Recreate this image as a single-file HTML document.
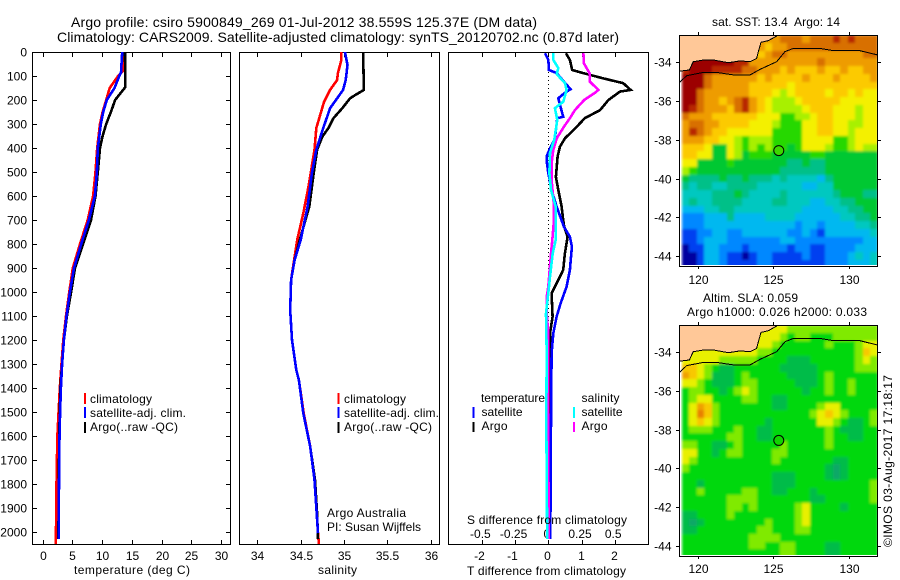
<!DOCTYPE html>
<html>
<head>
<meta charset="utf-8">
<title>Argo profile</title>
<style>
html,body{margin:0;padding:0;background:#fff;}
svg{display:block;}
text{font-family:"Liberation Sans",sans-serif;font-size:12px;fill:#000;}
.t14{font-size:14px;}
</style>
</head>
<body>
<svg id="chart" xmlns="http://www.w3.org/2000/svg" width="900" height="580" viewBox="0 0 900 580">
<defs>
<clipPath id="clip-sst"><rect x="681" y="35" width="196.5" height="230"/></clipPath>
<clipPath id="clip-sla"><rect x="681" y="325" width="196.5" height="230"/></clipPath>
<clipPath id="clip-p1"><rect x="32" y="52" width="199" height="493"/></clipPath>
<clipPath id="clip-p2"><rect x="239" y="52" width="201" height="493"/></clipPath>
<clipPath id="clip-p3"><rect x="448" y="52" width="201" height="493"/></clipPath>
<filter id="soften" x="-5%" y="-5%" width="110%" height="110%"><feGaussianBlur stdDeviation="1.4"/></filter>
</defs>
<text class="t14" x="71" y="27" textLength="466">Argo profile: csiro 5900849_269 01-Jul-2012 38.559S 125.37E (DM data)</text>
<text class="t14" x="57" y="42" textLength="562">Climatology: CARS2009. Satellite-adjusted climatology: synTS_20120702.nc (0.87d later)</text>
<g id="plots"></g>
<g id="maps"></g>

<text x="74" y="574" textLength="116">temperature (deg C)</text>
<text x="318" y="574" textLength="39">salinity</text>
<text x="467" y="575" textLength="159">T difference from climatology</text>
<text x="467" y="524" textLength="160">S difference from climatology</text>

<g>
<rect x="84" y="393" width="2" height="11" fill="#ff0000"/>
<rect x="84" y="407" width="2" height="11" fill="#0000ff"/>
<rect x="84" y="422" width="2" height="11" fill="#000"/>
<text x="90" y="403" textLength="62">climatology</text>
<text x="90" y="417" textLength="96">satellite-adj. clim.</text>
<text x="90" y="431" textLength="88">Argo(..raw -QC)</text>
</g>
<g>
<rect x="337.500" y="393" width="2" height="11" fill="#ff0000"/>
<rect x="337.500" y="407" width="2" height="11" fill="#0000ff"/>
<rect x="337.500" y="422" width="2" height="11" fill="#000"/>
<text x="344" y="403" textLength="62">climatology</text>
<text x="344" y="417" textLength="95">satellite-adj. clim.</text>
<text x="344" y="431" textLength="88">Argo(..raw -QC)</text>
</g>
<text x="327" y="517" textLength="79">Argo Australia</text>
<text x="327" y="531" textLength="94">PI: Susan Wijffels</text>

<g>
<text x="481" y="402" textLength="64">temperature</text>
<text x="481.500" y="416" textLength="41">satellite</text>
<text x="481.500" y="430" textLength="26">Argo</text>
<text x="581.500" y="402" textLength="38">salinity</text>
<text x="581.500" y="416" textLength="41">satellite</text>
<text x="581.500" y="430" textLength="26">Argo</text>
<rect x="472.500" y="407" width="2" height="11" fill="#0000ff"/>
<rect x="472.500" y="422" width="2" height="10" fill="#000"/>
<rect x="573" y="407" width="2" height="11" fill="#00ffff"/>
<rect x="573" y="422" width="2" height="10" fill="#ff00ff"/>
</g>

<text x="712" y="26" textLength="128">sat. SST: 13.4&#160; Argo: 14</text>
<text x="703" y="302" textLength="95">Altim. SLA: 0.059</text>
<text x="687" y="316" textLength="180">Argo h1000: 0.026 h2000: 0.033</text>
<text transform="translate(892,547) rotate(-90)" x="0" y="0" textLength="172">©IMOS 03-Aug-2017 17:18:17</text>
</svg>
<script>
// Temperature profiles
const tempClimDepth = [0,80,100,150,200,250,300,400,500,600,700,800,900,1000,1100,1200,1300,1400,1500,1600,1800,2000,2050];
const tempClim = [13.6,13.5,12.7,11.3,10.7,10.1,9.66,9.2,8.9,8.5,7.6,6.3,5.1,4.5,3.95,3.5,3.2,2.9,2.7,2.5,2.35,2.27,2.25];
const tempSatDepth = [0,85,100,150,200,250,300,400,500,600,700,800,900,1000,1100,1200,1300,1400,1500,1600,1800,2030];
const tempSat = [13.4,13.2,12.9,12.1,10.8,10.2,9.8,9.3,9.15,8.8,7.8,6.5,5.3,4.6,4.03,3.6,3.3,3.1,2.95,2.85,2.77,2.7];
const tempArgoDepth = [0,147,200,250,300,350,400,500,600,700,800,900,1000,1100,1200,1300,1400,1500,1600,1800,2030];
const tempArgo = [13.87,13.9,12.2,11.5,10.7,10.1,9.66,9.3,8.9,8.15,6.8,5.46,4.8,4.1,3.6,3.3,3.0,2.9,2.8,2.75,2.68];
// Salinity profiles
const salClimDepth = [0,33,88,117,158,207,317,408,561,672,783,867,950,1075,1200,1325,1367,1505,1644,1783,1922,2005,2050];
const salClim = [34.97,34.97,34.93,34.92,34.84,34.77,34.68,34.66,34.59,34.53,34.46,34.425,34.39,34.38,34.4,34.45,34.48,34.535,34.61,34.66,34.685,34.7,34.71];
const salSatDepth = [0,54,117,158,234,317,408,505,644,783,867,950,1075,1200,1325,1367,1505,1644,1783,1922,2005];
const salSat = [35.01,35.04,35.02,34.99,34.84,34.76,34.68,34.63,34.58,34.5,34.43,34.39,34.38,34.4,34.45,34.48,34.53,34.61,34.66,34.685,34.7];
const salArgoDepth = [0,158,179,193,234,275,317,353,408,505,644,783,867,950,1075,1200,1325,1367,1505,1644,1783,1922,2030];
const salArgo = [35.22,35.23,35.13,35.07,34.98,34.88,34.82,34.75,34.69,34.65,34.6,34.49,34.43,34.39,34.38,34.4,34.45,34.48,34.53,34.61,34.665,34.69,34.7];
// Differences from climatology
const diffTArgoDepth = [5,33,75,88,110,130,158,165,200,242,276,311,360,395,436,520,575,644,700,728,770,839,908,950,1005,1047,1103,1172,1255,1533,2030];
const diffTArgo = [0.53,0.65,0.72,1.05,1.66,2.26,2.48,2.16,1.81,1.56,1.1,0.86,0.5,0.35,0.28,0.23,0.3,0.4,0.45,0.48,0.58,0.5,0.45,0.3,0.1,0.11,0.13,0.05,0.05,0.06,0.05];
const diffTSatDepth = [5,33,75,88,120,155,170,193,270,276,360,408,436,464,505,575,644,728,770,811,908,978,1047,1103,1172,1255,1533,2030];
const diffTSat = [-0.1,0,0.02,0.25,0.45,0.67,0.5,0.3,0.45,0.27,0.2,0.03,-0.05,-0.04,0,0.1,0.25,0.47,0.65,0.71,0.65,0.55,0.37,0.25,0.15,0.1,0.08,0.06];
const diffSArgoDepth = [5,47,88,124,158,170,200,242,276,311,360,408,464,533,644,700,783,839,978,1020,1089,1172,1533,2030];
const diffSArgo = [0.264,0.268,0.31,0.314,0.377,0.352,0.27,0.2,0.163,0.118,0.063,0.038,0.025,0.025,0.043,0.043,0.03,0.02,0,-0.012,-0.012,0,0,0.002];
const diffSSatDepth = [5,33,67,92,130,158,207,234,283,365,420,505,575,644,783,839,936,1005,1089,1255,1533,2030];
const diffSSat = [0.038,0.038,0.075,0.063,0.126,0.138,0.113,0.05,0.068,0.045,0.013,0.008,0.02,0.056,0.056,0.033,0.013,0,-0.017,-0.012,-0.015,-0.008];
// Tick labels
const depthTicks = [0,100,200,300,400,500,600,700,800,900,1000,1100,1200,1300,1400,1500,1600,1700,1800,1900,2000];
const tempTicks = [0,5,10,15,20,25,30];
const salTicks = [34,34.5,35,35.5,36];
const diffTTicks = [-2,-1,0,1,2];
const diffSTicks = [-0.5,-0.25,0,0.25,0.5];
const lonTicks = [120,125,130];
const latTicks = [34,36,38,40,42,44];
// Coast and 200 m isobath as lon / degrees south
const coastLon = [118.78,125.23,125.23,124.68,124.19,124.02,123.9,123.47,122.8,122.03,121.04,120.38,119.7,119.45,118.78];
const coastLat = [32.59,32.59,32.64,32.88,32.97,33.45,33.8,33.97,33.93,34.02,33.88,33.88,33.97,34.4,34.46];
const isobathLon = [118.79,119.27,120.38,121.26,122.36,123.47,124.13,125.23,125.78,126.34,128.1,129,130.75,131.9];
const isobathLat = [35.05,34.69,34.52,34.52,34.65,34.65,34.36,33.97,33.45,33.28,33.28,33.4,33.4,33.62];
const floatLon = 125.37;
const floatLat = 38.559;
// Gridded map levels, one row per 0.4 deg of latitude, one column per 0.5 deg of longitude
const sstGrid = [
[11,11,11,11,11,11,11,11,11,11,11,11,11,12,12,12,11,12,12,12,13,12,13,12,12,12],
[11,11,11,11,11,11,11,11,11,11,11,10,11,11,12,12,12,12,12,12,12,12,12,12,12,12],
[14,14,14,14,14,14,14,14,13,11,10,11,12,12,11,11,11,11,11,11,11,11,11,11,12,12],
[14,14,14,14,14,14,14,13,13,11,11,11,11,11,11,11,11,11,12,11,11,11,11,11,11,11],
[13,14,14,14,13,13,13,13,12,12,11,11,11,10,11,10,10,10,11,10,10,11,10,10,11,11],
[14,14,14,12,11,11,11,11,11,11,10,11,10,10,10,10,11,10,10,10,11,10,10,10,10,11],
[14,14,14,12,11,11,11,11,11,10,10,10,10,10,9,10,10,10,10,10,10,10,10,10,10,10],
[14,14,12,11,11,11,11,11,11,10,10,10,9,8,9,10,10,10,10,9,10,10,9,10,9,9],
[14,14,12,11,11,10,11,12,13,11,10,9,8,8,8,9,10,10,10,10,10,9,9,9,9,9],
[14,13,12,11,11,11,10,12,13,11,10,9,8,8,8,8,9,10,10,10,9,9,9,8,9,9],
[12,11,11,11,10,10,10,10,10,10,9,9,9,7,7,8,8,9,10,10,9,9,9,8,9,9],
[11,12,12,11,11,10,10,10,10,9,9,9,8,7,7,7,9,9,10,10,9,9,8,8,9,9],
[11,13,12,11,10,10,9,9,9,9,9,9,7,7,7,7,9,9,10,10,9,9,8,9,9,9],
[11,11,11,10,10,9,9,8,7,8,8,8,7,7,7,7,9,9,9,9,7,7,8,9,9,9],
[10,10,10,9,6,6,9,8,7,8,7,8,7,7,6,7,9,9,9,8,7,7,8,9,8,8],
[10,10,9,9,6,6,9,8,6,7,7,7,6,6,6,6,6,7,7,6,6,6,6,6,6,6],
[9,9,6,6,6,6,7,6,6,6,6,6,6,6,5,5,6,5,5,6,6,6,6,6,6,6],
[8,7,6,6,6,6,6,6,6,6,6,6,6,5,5,5,5,5,5,6,6,6,6,6,6,6],
[6,5,5,5,5,6,5,5,6,5,5,5,4,5,4,4,4,4,3,5,6,6,6,6,6,6],
[5,4,5,5,4,4,5,5,5,5,4,4,4,4,4,4,3,3,4,4,6,6,6,6,6,6],
[4,4,4,4,5,5,5,6,5,4,4,4,4,5,4,4,4,4,4,4,5,6,6,6,5,5],
[4,5,4,4,5,5,5,5,4,4,4,4,5,5,4,4,4,3,3,4,4,5,5,6,6,6],
[3,3,3,4,4,5,5,4,4,4,4,4,4,4,4,4,3,3,3,3,4,4,5,5,6,6],
[2,2,2,3,3,3,5,3,3,3,3,4,4,4,4,3,3,3,3,3,3,4,4,5,5,6],
[2,2,2,3,3,3,3,3,3,3,3,3,3,3,3,2,3,3,2,3,3,3,3,4,4,5],
[1,1,2,2,3,3,2,2,3,3,3,3,3,3,2,2,3,2,1,3,3,3,3,3,3,4],
[1,1,2,3,3,3,2,2,2,2,2,2,2,3,3,2,2,2,2,2,2,2,2,2,3,3],
[0,1,1,3,3,2,2,2,1,2,2,2,2,2,1,2,2,1,1,2,2,2,2,3,3,3],
[0,0,1,3,3,2,1,1,0,1,2,2,1,1,1,1,2,1,1,2,2,2,3,4,3,4],
[0,0,1,3,3,2,1,1,1,1,2,2,1,1,1,1,1,1,1,2,2,2,3,3,3,4]
];
const slaGrid = [
[9,9,9,9,9,9,9,9,9,9,9,9,9,9,8,8,8,8,8,8,8,8,8,8,8,8],
[9,9,9,9,9,9,9,9,9,9,9,9,9,8,7,8,8,7,7,7,8,8,8,8,8,8],
[9,9,9,9,9,9,9,9,9,9,9,9,8,7,7,7,7,7,7,8,7,7,7,8,9,9],
[9,9,9,9,9,9,9,9,9,9,8,8,7,7,7,7,7,7,7,7,7,7,7,8,10,9],
[9,9,9,9,9,8,8,8,8,8,7,7,7,7,6,6,6,7,7,7,7,7,7,8,9,8],
[10,10,9,8,7,6,6,7,7,7,7,7,7,6,6,6,6,6,7,7,7,7,7,8,8,8],
[11,10,9,8,6,6,6,7,8,7,7,7,7,7,6,6,6,6,7,8,7,7,7,7,7,7],
[9,9,8,7,6,6,6,7,8,8,7,7,7,7,7,6,6,6,7,8,7,7,8,7,7,7],
[7,8,8,7,7,6,7,8,9,8,7,7,7,7,7,7,6,7,7,8,7,7,8,7,7,7],
[7,8,9,9,7,7,7,7,8,8,7,7,6,6,7,7,7,7,7,7,7,7,7,7,7,7],
[7,9,11,10,8,7,7,7,7,7,7,7,6,6,7,7,7,7,8,9,9,7,7,7,7,7],
[7,9,12,10,8,7,7,7,7,7,7,7,7,7,7,7,7,8,9,10,9,8,7,7,7,8],
[7,9,10,9,8,7,7,7,7,7,7,6,7,7,7,7,7,7,9,9,8,7,6,6,7,8],
[7,8,8,8,7,7,7,8,7,7,6,6,7,7,7,7,7,7,7,8,7,6,6,6,7,7],
[7,7,7,7,7,7,8,8,7,7,6,6,7,7,7,7,7,7,7,8,7,7,6,6,7,7],
[8,8,7,7,6,6,7,8,7,7,7,7,7,8,7,7,7,7,7,8,7,7,7,7,7,7],
[9,9,7,7,6,7,8,8,7,7,7,7,8,8,7,7,7,7,7,7,7,7,7,7,7,7],
[9,8,7,7,7,7,7,7,7,7,7,7,8,7,7,7,7,7,7,7,6,6,7,7,7,7],
[8,7,7,7,7,7,7,7,7,7,7,7,7,7,7,7,7,7,7,6,5,6,7,7,7,7],
[7,7,7,7,7,7,7,7,7,7,7,7,6,6,6,7,7,7,7,6,5,6,7,7,7,7],
[7,7,6,7,7,7,7,7,7,7,7,7,6,6,6,7,7,7,7,7,7,7,7,7,7,8],
[7,7,8,7,7,7,7,7,8,8,7,7,6,6,7,7,7,6,7,7,7,7,7,7,7,8],
[7,7,7,7,7,7,8,8,8,8,7,7,7,7,7,7,7,6,6,7,7,7,7,7,7,8],
[7,7,7,7,7,7,8,8,7,8,7,7,7,7,7,8,9,7,7,7,7,6,7,7,7,7],
[6,6,7,7,7,7,8,7,7,7,7,7,7,7,7,8,9,7,7,7,7,7,7,7,7,7],
[6,5,6,7,7,7,7,7,7,7,7,8,7,7,7,8,9,7,7,7,7,7,7,7,7,7],
[6,6,7,7,7,7,7,7,7,7,8,8,7,7,7,8,8,7,7,7,7,7,7,7,7,7],
[7,7,7,7,7,7,7,7,7,8,8,8,8,7,7,7,7,7,7,7,7,7,7,7,7,7],
[7,7,7,7,7,7,7,7,7,8,8,7,7,8,8,7,7,7,7,6,6,7,7,7,7,7],
[7,7,7,7,7,7,7,7,7,7,7,7,7,8,8,7,7,7,7,6,6,7,7,7,7,7]
];

const NS = 'http://www.w3.org/2000/svg';
const plotsLayer = document.getElementById('plots');
const mapsLayer = document.getElementById('maps');
function yDepth(d){ return 52 + d * 0.24; }
function xTemp(v){ return 42.5 + v * 5.95; }
function xSal(v){ return 257.3 + (v - 34) * 86.7; }
function xDiffT(v){ return 548.3 + v * 33.2; }
function xDiffS(v){ return 548.3 + v * 132.8; }
function xLon(v){ return 697.7 + (v - 120) * 15.1; }
function ySst(v){ return 62.3 + (v - 34) * 19.37; }
function ySla(v){ return 352.3 + (v - 34) * 19.33; }

function addTick(parent, x1, y1, x2, y2) {
  const el = document.createElementNS(NS, 'line');
  
  
  el.setAttribute('x1', x1); el.setAttribute('y1', y1);
  el.setAttribute('x2', x2); el.setAttribute('y2', y2);
  el.setAttribute('stroke', '#000');
  el.setAttribute('shape-rendering', 'crispEdges');
  parent.appendChild(el);
}
function addLabel(parent, x, y, str, anchor) {
  const el = document.createElementNS(NS, 'text');
  
  
  el.setAttribute('x', x); el.setAttribute('y', y);
  el.setAttribute('text-anchor', anchor);
  el.textContent = str;
  parent.appendChild(el);
}
function addFrame(parent, x, y, w, h) {
  const el = document.createElementNS(NS, 'rect');
  
  
  el.setAttribute('x', x); el.setAttribute('y', y);
  el.setAttribute('width', w); el.setAttribute('height', h);
  el.setAttribute('fill', 'none');
  el.setAttribute('stroke', '#000');
  el.setAttribute('shape-rendering', 'crispEdges');
  parent.appendChild(el);
}
function addProfile(parent, name, values, depths, xFn, color, clip) {
  const el = document.createElementNS(NS, 'polyline');
  
  
  el.setAttribute('points', values.map((v, i) => xFn(v).toFixed(1) + ',' + yDepth(depths[i]).toFixed(1)).join(' '));
  el.setAttribute('fill', 'none');
  el.setAttribute('stroke', color);
  el.setAttribute('stroke-width', '2.6');
  el.setAttribute('clip-path', 'url(#' + clip + ')');
  el.setAttribute('shape-rendering', 'crispEdges');
  parent.appendChild(el);
}

addFrame(plotsLayer, 32.5, 52.5, 198, 492);
addFrame(plotsLayer, 239.5, 52.5, 200, 492);
addFrame(plotsLayer, 448.5, 52.5, 200, 492);
depthTicks.forEach(d => {
  const y = Math.round(yDepth(d)) + 0.5;
  addTick(plotsLayer, 32, y, 37, y);
  addTick(plotsLayer, 226, y, 231, y);
  addLabel(plotsLayer, 27, y + 4, String(d), 'end');
});
tempTicks.forEach(t => {
  const x = Math.round(xTemp(t)) + 0.5;
  addTick(plotsLayer, x, 52, x, 57);
  addTick(plotsLayer, x, 540, x, 545);
  addLabel(plotsLayer, x, 560, String(t), 'middle');
});
salTicks.forEach(t => {
  const x = Math.round(xSal(t)) + 0.5;
  addTick(plotsLayer, x, 52, x, 57);
  addTick(plotsLayer, x, 540, x, 545);
  addLabel(plotsLayer, x, 560, String(t), 'middle');
});
diffTTicks.forEach(t => {
  const x = Math.round(xDiffT(t)) + 0.5;
  addTick(plotsLayer, x, 52, x, 57);
  addTick(plotsLayer, x, 540, x, 545);
  addLabel(plotsLayer, t < 0 ? x - 3 : x - 1, 560, String(t), 'middle');
});
diffSTicks.forEach(t => {
  addLabel(plotsLayer, xDiffS(t) - 1.5, 538, String(t), 'middle');
});

const zeroLine = document.createElementNS(NS, 'line');


zeroLine.setAttribute('x1', '548.5');
zeroLine.setAttribute('x2', '548.5');
zeroLine.setAttribute('y1', yDepth(0));
zeroLine.setAttribute('y2', '545');
zeroLine.setAttribute('stroke', '#000');
zeroLine.setAttribute('stroke-dasharray', '1 3');
zeroLine.setAttribute('shape-rendering', 'crispEdges');
plotsLayer.appendChild(zeroLine);

addProfile(plotsLayer, 'temperature-climatology-line', tempClim, tempClimDepth, xTemp, '#ff0000', 'clip-p1');
addProfile(plotsLayer, 'temperature-argo-line', tempArgo, tempArgoDepth, xTemp, '#000000', 'clip-p1');
addProfile(plotsLayer, 'temperature-satellite-line', tempSat, tempSatDepth, xTemp, '#0000ff', 'clip-p1');
addProfile(plotsLayer, 'salinity-climatology-line', salClim, salClimDepth, xSal, '#ff0000', 'clip-p2');
addProfile(plotsLayer, 'salinity-argo-line', salArgo, salArgoDepth, xSal, '#000000', 'clip-p2');
addProfile(plotsLayer, 'salinity-satellite-line', salSat, salSatDepth, xSal, '#0000ff', 'clip-p2');
addProfile(plotsLayer, 't-difference-argo-line', diffTArgo, diffTArgoDepth, xDiffT, '#000000', 'clip-p3');
addProfile(plotsLayer, 't-difference-satellite-line', diffTSat, diffTSatDepth, xDiffT, '#0000ff', 'clip-p3');
addProfile(plotsLayer, 's-difference-argo-line', diffSArgo, diffSArgoDepth, xDiffS, '#ff00ff', 'clip-p3');
addProfile(plotsLayer, 's-difference-satellite-line', diffSSat, diffSSatDepth, xDiffS, '#00ffff', 'clip-p3');

// Colour scales for map levels
function sstColor(level) {
  const palette = ['#0000a0','#0040f0','#0088ff','#00b8f0','#00c8c0','#00c088','#00c830','#28d800','#a8f000','#f4f000','#fcca00','#ee9c00','#d87000','#b82800','#9c0000'];
  return palette[Math.max(0, Math.min(palette.length - 1, level))];
}
function slaColor(level) {
  const palette = ['#0000a0','#0040f0','#0088ff','#00b8f0','#00c8c0','#10a868','#00bc48','#00d808','#80ea00','#e8f000','#f8c800','#f0a000','#e88000','#c84000','#a00000'];
  return palette[Math.max(0, Math.min(palette.length - 1, level))];
}
function drawMap(grid, colorFn, yFn, clip, top, bottom, frameName, lonLabelY, circleFill) {
  const clipGroup = document.createElementNS(NS, 'g');
  
  
  clipGroup.setAttribute('clip-path', 'url(#' + clip + ')');
  mapsLayer.appendChild(clipGroup);
  const group = document.createElementNS(NS, 'g');
  
  
  group.setAttribute('filter', 'url(#soften)');
  clipGroup.appendChild(group);
  grid.forEach((row, j) => {
    row.forEach((level, i) => {
      const cell = document.createElementNS(NS, 'rect');
      
      
      const x0 = Math.round(xLon(118.93 + i * 0.5));
      const x1 = Math.round(xLon(118.93 + (i + 1) * 0.5));
      const y0 = Math.round(yFn(32.6 + j * 0.4));
      const y1 = Math.round(yFn(32.6 + (j + 1) * 0.4));
      cell.setAttribute('x', x0);
      cell.setAttribute('y', y0);
      cell.setAttribute('width', x1 - x0);
      cell.setAttribute('height', y1 - y0);
      cell.setAttribute('fill', colorFn(level));
      cell.setAttribute('shape-rendering', 'crispEdges');
      group.appendChild(cell);
    });
  });
  const land = document.createElementNS(NS, 'polygon');
  
  
  land.setAttribute('points', coastLon.map((v, i) => xLon(v).toFixed(1) + ',' + yFn(coastLat[i]).toFixed(1)).join(' '));
  land.setAttribute('fill', '#ffc898');
  mapsLayer.appendChild(land);
  const coast = document.createElementNS(NS, 'polyline');
  
  
  coast.setAttribute('points', coastLon.slice(2).map((v, i) => xLon(v).toFixed(1) + ',' + yFn(coastLat[i + 2]).toFixed(1)).join(' '));
  coast.setAttribute('fill', 'none');
  coast.setAttribute('stroke', '#000');
  coast.setAttribute('shape-rendering', 'crispEdges');
  mapsLayer.appendChild(coast);
  const iso = document.createElementNS(NS, 'polyline');
  
  
  iso.setAttribute('points', isobathLon.map((v, i) => xLon(v).toFixed(1) + ',' + yFn(isobathLat[i]).toFixed(1)).join(' '));
  iso.setAttribute('fill', 'none');
  iso.setAttribute('stroke', '#000');
  iso.setAttribute('shape-rendering', 'crispEdges');
  mapsLayer.appendChild(iso);
  const marker = document.createElementNS(NS, 'circle');
  
  
  marker.setAttribute('cx', xLon(floatLon));
  marker.setAttribute('cy', yFn(floatLat));
  marker.setAttribute('r', '5');
  marker.setAttribute('fill', circleFill);
  marker.setAttribute('stroke', '#000');
  mapsLayer.appendChild(marker);
  addFrame(mapsLayer, 679.5, top + 0.5, 198, bottom - top);
  lonTicks.forEach(t => {
    const x = Math.round(xLon(t)) + 0.5;
    addTick(mapsLayer, x, top - 3, x, top);
    addTick(mapsLayer, x, bottom, x, bottom + 3);
    addLabel(mapsLayer, x, lonLabelY, String(t), 'middle');
  });
  latTicks.forEach(t => {
    const y = Math.round(yFn(t)) + 0.5;
    addTick(mapsLayer, 676, y, 679, y);
    addTick(mapsLayer, 878, y, 881, y);
    addLabel(mapsLayer, 671.5, y + 4, '-' + t, 'end');
  });
}
drawMap(sstGrid, sstColor, ySst, 'clip-sst', 35, 266, 'sst-heatmap', 284, '#3cd800');
drawMap(slaGrid, slaColor, ySla, 'clip-sla', 325, 556, 'sla-heatmap', 573, '#10d400');
</script>
</body>
</html>
